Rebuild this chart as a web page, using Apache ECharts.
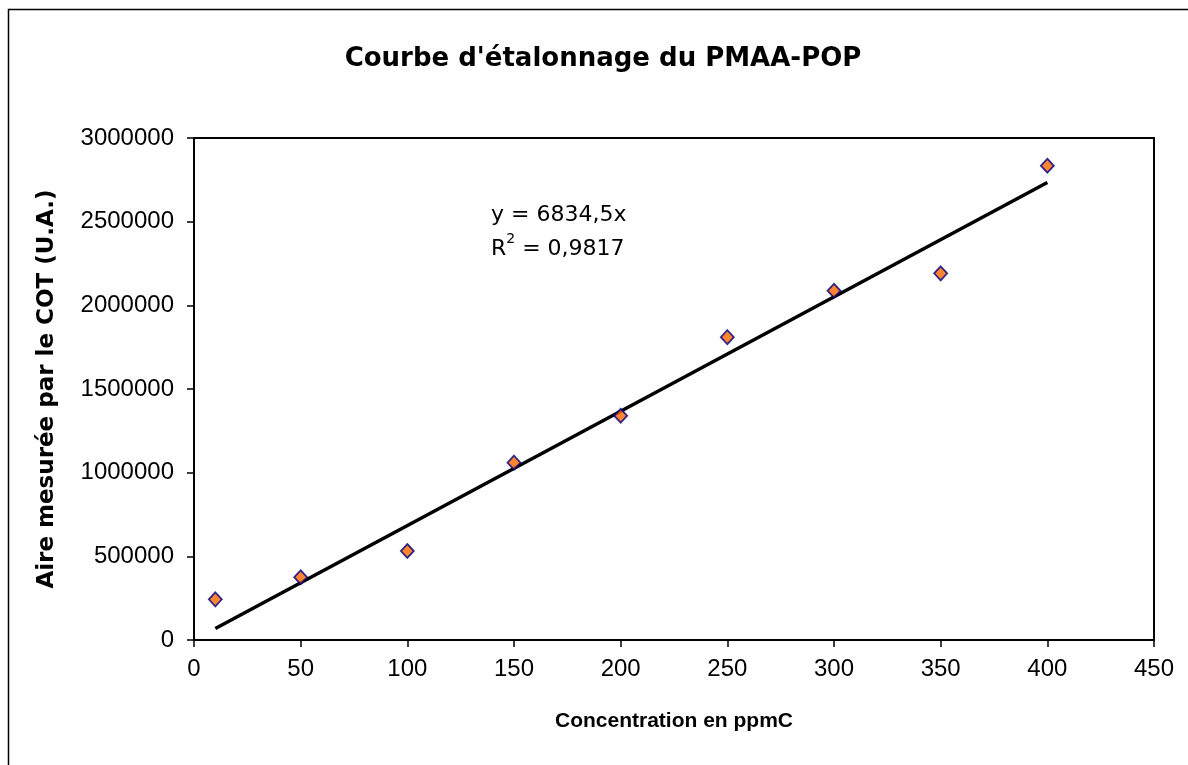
<!DOCTYPE html>
<html>
<head>
<meta charset="utf-8">
<script src="https://cdn.jsdelivr.net/npm/echarts@6/dist/echarts.min.js"></script>
<style>
html,body{margin:0;padding:0;background:#fff;}
#chart{width:1188px;height:765px;}
</style>
</head>
<body>
<div id="chart"></div>
<script>
// Data
const concentrations = [10, 50, 100, 150, 200, 250, 300, 350, 400];
const areas = [243000, 375000, 532000, 1060000, 1340000, 1810000, 2087000, 2191000, 2834000];
const trendX = [10, 400];
const trendY = [68345, 2733800];
const titleText = "Courbe d'étalonnage du PMAA-POP";
const xName = "Concentration en ppmC";
const yName = "Aire mesurée par le COT (U.A.)";
const eqLine1 = "y = 6834,5x";
const eqLine2R = "R";
const eqLine2Sup = "2";
const eqLine2Rest = " = 0,9817";

const chart = echarts.init(document.getElementById('chart'), null, {renderer: 'canvas'});
const tickFont = {fontFamily: 'Liberation Sans', fontSize: 24, color: '#000'};

chart.setOption({
  backgroundColor: '#fff',
  animation: false,
  title: {
    text: titleText,
    left: 598,
    top: 41,
    textAlign: 'center',
    textStyle: {fontFamily: 'DejaVu Sans', fontWeight: 'bold', fontSize: 26, color: '#000'}
  },
  grid: {
    left: 194, top: 138, right: 34, bottom: 125,
    show: true, borderColor: '#000', borderWidth: 2, backgroundColor: '#fff'
  },
  xAxis: {
    type: 'value',
    min: 0, max: 450, interval: 50,
    name: xName,
    nameLocation: 'middle',
    nameGap: 71,
    nameTextStyle: {fontFamily: 'Liberation Sans', fontWeight: 'bold', fontSize: 21, color: '#000'},
    axisLine: {show: true, onZero: false, lineStyle: {color: '#000', width: 2}},
    axisTick: {show: true, inside: false, length: 7, lineStyle: {color: '#000', width: 1.5}},
    axisLabel: Object.assign({margin: 17, formatter: v => String(v)}, tickFont),
    splitLine: {show: false}
  },
  yAxis: {
    type: 'value',
    min: 0, max: 3000000, interval: 500000,
    name: yName,
    nameLocation: 'middle',
    nameRotate: 90,
    nameGap: 135,
    nameTextStyle: {fontFamily: 'DejaVu Sans', fontWeight: 'bold', fontSize: 23, color: '#000'},
    axisLine: {show: true, onZero: false, lineStyle: {color: '#000', width: 2}},
    axisTick: {show: true, inside: false, length: 7, lineStyle: {color: '#000', width: 1.5}},
    axisLabel: Object.assign({margin: 20, formatter: v => String(v)}, tickFont),
    splitLine: {show: false}
  },
  graphic: [
    {
      type: 'rect',
      shape: {x: 8.5, y: 9.5, width: 1400, height: 1000},
      style: {fill: 'none', stroke: '#000', lineWidth: 1.5},
      silent: true, z: 100
    },
    {
      type: 'text',
      left: 491, top: 198,
      style: {
        text: eqLine1 + '\n{r|' + eqLine2R + '}{s|' + eqLine2Sup + '}{r|' + eqLine2Rest + '}',
        fontFamily: 'DejaVu Sans', fontSize: 22, fill: '#000', lineHeight: 34,
        rich: {
          r: {fontFamily: 'DejaVu Sans', fontSize: 22, fill: '#000', lineHeight: 34},
          s: {fontFamily: 'DejaVu Sans', fontSize: 14, fill: '#000', verticalAlign: 'top', padding: [0, 0, 12, 0], lineHeight: 34}
        }
      },
      z: 50
    }
  ],
  series: [
    {
      type: 'line',
      data: trendX.map((x, i) => [x, trendY[i]]),
      symbol: 'none',
      lineStyle: {color: '#000', width: 3.5},
      z: 2,
      silent: true
    },
    {
      type: 'scatter',
      data: concentrations.map((x, i) => [x, areas[i]]),
      symbol: 'diamond',
      symbolSize: [13, 14],
      itemStyle: {color: '#FF6600', borderColor: '#000080', borderWidth: 1.8},
      z: 3
    }
  ]
});
</script>
</body>
</html>
